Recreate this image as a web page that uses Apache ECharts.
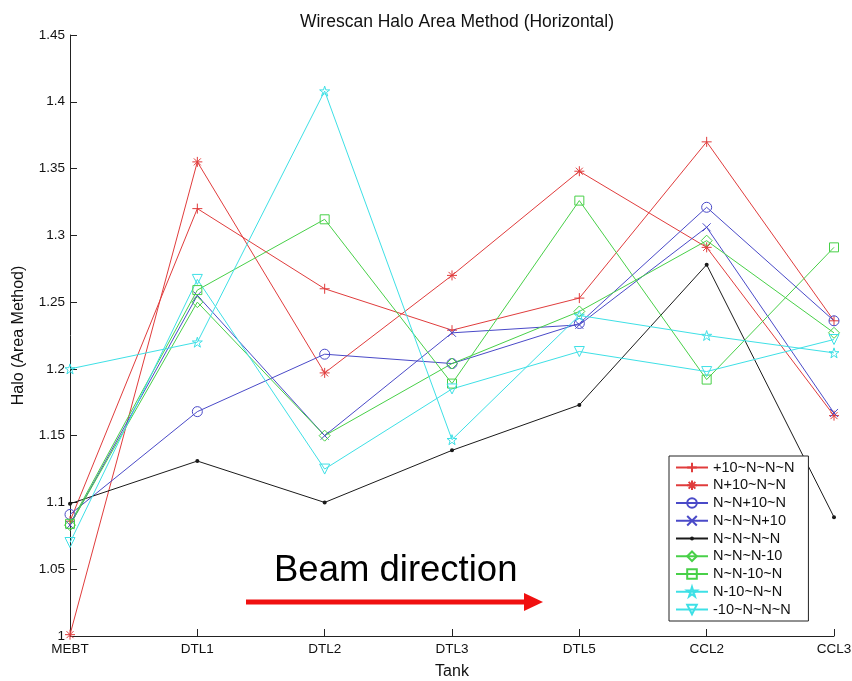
<!DOCTYPE html>
<html>
<head>
<meta charset="utf-8">
<script src="https://cdn.jsdelivr.net/npm/echarts@6/dist/echarts.min.js"></script>
<style>
  html, body { margin: 0; padding: 0; background: #fff; }
  #chart { width: 852px; height: 681px; }
</style>
</head>
<body>
<div id="chart"></div>
<script>
// Tanks along the beam line
const tanks = ['MEBT', 'DTL1', 'DTL2', 'DTL3', 'DTL5', 'CCL2', 'CCL3'];

// Halo (area method) per quad setting
const plus10_N_N_N  = [1.086, 1.320, 1.260, 1.229, 1.253, 1.370, 1.236];
const N_plus10_N_N  = [1.001, 1.355, 1.197, 1.270, 1.348, 1.291, 1.165];
const N_N_plus10_N  = [1.091, 1.168, 1.211, 1.204, 1.234, 1.321, 1.236];
const N_N_N_plus10  = [1.083, 1.255, 1.150, 1.227, 1.233, 1.306, 1.167];
const N_N_N_N       = [1.099, 1.131, 1.100, 1.139, 1.173, 1.278, 1.089];
const N_N_N_minus10 = [1.083, 1.250, 1.150, 1.204, 1.243, 1.296, 1.227];
const N_N_minus10_N = [1.084, 1.259, 1.312, 1.189, 1.326, 1.192, 1.291];
const N_minus10_N_N = [1.200, 1.220, 1.408, 1.147, 1.240, 1.225, 1.212];
const minus10_N_N_N = [1.070, 1.267, 1.125, 1.185, 1.213, 1.198, 1.222];

const seriesNames = ['+10~N~N~N', 'N+10~N~N', 'N~N+10~N', 'N~N~N+10', 'N~N~N~N',
                     'N~N~N-10', 'N~N-10~N', 'N-10~N~N', '-10~N~N~N'];
const seriesData = [plus10_N_N_N, N_plus10_N_N, N_N_plus10_N, N_N_N_plus10, N_N_N_N,
                    N_N_N_minus10, N_N_minus10_N, N_minus10_N_N, minus10_N_N_N];

// Marker shapes
const PLUS = 'path://M5,0L5,10M0,5L10,5';
const ASTER = 'path://M5,0L5,10M0,5L10,5M1.5,1.5L8.5,8.5M1.5,8.5L8.5,1.5';
const CROSS = 'path://M0,0L10,10M0,10L10,0';
const STAR = 'path://M5,0L6.123,3.455L9.755,3.455L6.816,5.59L7.939,9.045L5,6.91L2.061,9.045L3.184,5.59L0.245,3.455L3.877,3.455Z';
// small dot centred in a 10x10 box (the move-to corners keep the box size)
const DOT = 'path://M0,0M10,10M3,5A2,2 0 1,0 7,5A2,2 0 1,0 3,5Z';

const RED = '#e03c3c', BLUE = '#4a4ac8', BLACK = '#1a1a1a', GREEN = '#48d048', CYAN = '#3ee0e6';

const styles = [
  { color: RED,   symbol: PLUS,     size: 10 },
  { color: RED,   symbol: ASTER,    size: 10 },
  { color: BLUE,  symbol: 'circle', size: 10 },
  { color: BLUE,  symbol: CROSS,    size: 8 },
  { color: BLACK, symbol: DOT,      size: 10, filled: true },
  { color: GREEN, symbol: 'diamond', size: 11 },
  { color: GREEN, symbol: 'rect',   size: 9 },
  { color: CYAN,  symbol: STAR,     size: 10 },
  { color: CYAN,  symbol: 'triangle', size: 10, rotate: 180 }
];

const series = seriesNames.map((name, i) => {
  const s = styles[i];
  return {
    name: name,
    type: 'line',
    data: seriesData[i],
    symbol: s.symbol,
    symbolSize: s.size,
    symbolRotate: s.rotate || 0,
    showAllSymbol: true,
    animation: false,
    lineStyle: { color: s.color, width: 1 },
    itemStyle: {
      color: s.filled ? s.color : 'rgba(255,255,255,0)',
      borderColor: s.color,
      borderWidth: s.filled ? 0 : 1
    },
    emphasis: { disabled: true }
  };
});

const chart = echarts.init(document.getElementById('chart'), null, { renderer: 'canvas' });
const FONT = 'Liberation Sans, Arial, sans-serif';

chart.setOption({
  backgroundColor: '#fff',
  animation: false,
  textStyle: { fontFamily: FONT },
  title: {
    text: 'Wirescan Halo Area Method (Horizontal)',
    left: 452,
    top: 8,
    textAlign: 'center',
    textStyle: { fontFamily: FONT, fontSize: 17.5, fontWeight: 'normal', color: '#111' }
  },
  grid: { left: 70, right: 18, top: 35, bottom: 45, outerBoundsMode: 'none', containLabel: false },
  legend: {
    orient: 'vertical',
    left: 669,
    top: 456,
    data: seriesNames,
    itemWidth: 32,
    itemHeight: 12,
    itemGap: 2.75,
    padding: [4, 14, 4, 6],
    borderColor: '#222',
    borderWidth: 1,
    backgroundColor: '#fff',
    textStyle: { fontFamily: FONT, fontSize: 14.5, color: '#111' },
    selectedMode: false
  },
  xAxis: {
    type: 'category',
    data: tanks,
    boundaryGap: false,
    name: 'Tank',
    nameLocation: 'middle',
    nameGap: 28,
    nameTextStyle: { fontFamily: FONT, fontSize: 16, color: '#111' },
    axisLine: { lineStyle: { color: '#222', width: 1 } },
    axisTick: { inside: true, length: 7, lineStyle: { color: '#222' } },
    axisLabel: { fontFamily: FONT, fontSize: 13.5, color: '#111', margin: 6 },
    splitLine: { show: false }
  },
  yAxis: {
    type: 'value',
    min: 1,
    max: 1.45,
    interval: 0.05,
    name: 'Halo (Area Method)',
    nameLocation: 'middle',
    nameGap: 43,
    nameTextStyle: { fontFamily: FONT, fontSize: 16, color: '#111' },
    axisLine: { show: true, lineStyle: { color: '#222', width: 1 } },
    axisTick: { show: true, inside: true, length: 7, lineStyle: { color: '#222' } },
    axisLabel: { fontFamily: FONT, fontSize: 13.5, color: '#111', margin: 5 },
    splitLine: { show: false }
  },
  graphic: [
    {
      type: 'text',
      left: 274,
      top: 552,
      style: { text: 'Beam direction', font: '36.5px ' + FONT, fill: '#000' }
    },
    {
      type: 'line',
      shape: { x1: 246, y1: 602, x2: 527, y2: 602 },
      style: { stroke: '#f01010', lineWidth: 5 }
    },
    {
      type: 'polygon',
      shape: { points: [[524, 593], [543, 602], [524, 611]] },
      style: { fill: '#f01010' }
    }
  ],
  series: series
});
</script>
</body>
</html>
